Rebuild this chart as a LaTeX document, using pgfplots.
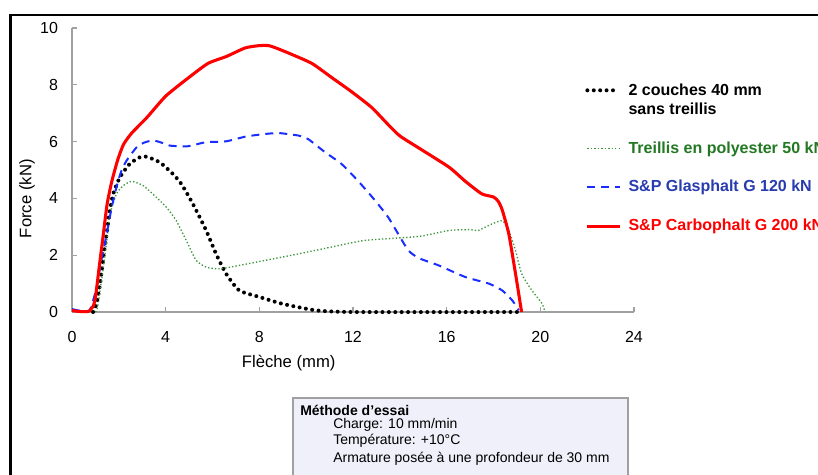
\documentclass[border=0pt]{standalone}
\usepackage{pgfplots}
\pgfplotsset{compat=1.18}
\usepackage{fontspec}
\setmainfont{Liberation Sans}
\definecolor{cred}{RGB}{255,0,0}
\definecolor{cblue}{RGB}{25,45,255}
\definecolor{cbluetext}{RGB}{40,60,175}
\definecolor{cgreen}{RGB}{60,150,60}
\definecolor{cgreentext}{RGB}{35,120,35}
\definecolor{boxfill}{RGB}{240,240,250}
\definecolor{axgray}{RGB}{160,160,160}
\pgfplotsset{raisedlegend/.style={legend image code/.code={\draw[##1] (0cm,0.25cm) -- (0.8cm,0.25cm);}}}
\begin{document}
\begin{tikzpicture}[x=0.75pt,y=0.75pt]
\useasboundingbox (0,0) rectangle (818,475);
\fill[white] (0,0) rectangle (818,475);
\draw[black, line width=2pt] (10.5,-40) -- (10.5,460) -- (900,460);
\begin{axis}[
  at={(54pt,122.25pt)}, anchor=south west, scale only axis,
  width=421.5pt, height=213pt,
  xmin=0, xmax=24, ymin=0, ymax=10,
  axis x line*=bottom, axis y line*=left,
  axis line style={draw=axgray, line width=0.8pt, -},
  every tick/.style={draw=axgray, line width=0.8pt},
  tick align=inside, major tick length=4pt,
  xtick={0,4,...,24}, ytick={0,2,...,10},
  /pgf/number format/assume math mode=true,
  tick label style={font=\fontsize{12}{14}\selectfont},
  xticklabel style={yshift=-11pt},
  yticklabel style={xshift=-7pt},
  xlabel={Flèche (mm)},
  ylabel={Force (kN)},
  label style={font=\fontsize{12.5}{14}\selectfont},
  xlabel style={at={(axis description cs:0.3856,-0.18)}, anchor=center},
  ylabel style={at={(axis description cs:-0.08,0.399)}, anchor=center},
  clip=false,
  legend image code/.code={\draw[#1] (0cm,0cm) -- (0.87cm,0cm);},
  legend cell align=left,
  legend style={at={(axis description cs:0.913,0.815)}, anchor=north west,
    draw=none, fill=none, inner sep=0pt,
    font=\bfseries\fontsize{12}{14.3}\selectfont,
    row sep=15pt,
    cells={anchor=west, align=left},
    /tikz/every odd column/.append style={column sep=3pt}},
]
\addplot[black, line width=3pt, line cap=round, dash pattern=on 0pt off 4.8pt, smooth, tension=0.35, raisedlegend] coordinates {
(0.9,0)(1.05,0.3)(1.2,1.0)(1.35,2.0)(1.48,2.75)(1.6,3.5)(1.76,4.16)(2.05,4.75)(2.47,5.22)(2.9,5.45)(3.18,5.47)(3.75,5.27)(4.31,4.86)(4.67,4.51)(5.16,3.81)(5.73,2.87)(6.15,2.05)(6.58,1.35)(7.14,0.76)(8.0,0.53)(8.98,0.29)(10.4,0.06)(12,0)(19,0)};
\addlegendentry{2 couches 40 mm\\sans treillis}
\addplot[cgreen, line width=1pt, dash pattern=on 1pt off 1.6pt, smooth, tension=0.35] coordinates {
(1.0,0)(1.1,0.2)(1.34,1.58)(1.5,2.6)(1.63,3.46)(1.9,4.16)(2.19,4.45)(2.55,4.6)(3.04,4.45)(3.6,4.04)(4.03,3.69)(4.45,3.22)(4.88,2.52)(5.3,1.82)(5.73,1.58)(6.3,1.52)(7.14,1.64)(8.27,1.82)(9.69,2.05)(11.1,2.29)(12.5,2.52)(14.8,2.66)(16.1,2.87)(17.0,2.9)(17.35,2.87)(17.8,3.05)(18.37,3.22)(18.65,2.87)(18.94,2.17)(19.2,1.35)(19.64,0.76)(20.07,0.3)(20.2,0)};
\addlegendentry{\textcolor{cgreentext}{ Treillis en polyester 50 kN}}
\addplot[cblue, line width=1.5pt, dash pattern=on 6pt off 4.5pt, smooth, tension=0.35] coordinates {
(0,0.1)(0.3,0.05)(0.5,0.02)(0.75,0.05)(0.9,0.4)(1.06,0.9)(1.25,1.8)(1.48,2.75)(1.7,3.7)(1.9,4.4)(2.1,4.95)(2.33,5.33)(2.76,5.8)(3.1,5.97)(3.47,6.04)(3.8,5.97)(4.17,5.86)(4.88,5.83)(5.3,5.9)(5.73,5.98)(6.58,6.01)(7.43,6.18)(8.27,6.27)(8.84,6.3)(9.69,6.21)(10.1,6.08)(10.8,5.63)(11.5,5.22)(12.2,4.63)(12.94,3.93)(13.5,3.34)(13.93,2.75)(14.36,2.17)(14.8,1.9)(15.66,1.64)(16.8,1.23)(17.8,1.0)(18.37,0.76)(18.8,0.41)(19.08,0.06)};
\addlegendentry{\textcolor{cbluetext}{S\&P Glasphalt G 120 kN}}
\addplot[cred, line width=2.3pt, smooth, tension=0.35] coordinates {
(0,0.05)(0.3,0.02)(0.7,0.02)(0.9,0.2)(1.0,0.5)(1.15,1.5)(1.34,2.75)(1.5,3.8)(1.7,4.6)(1.95,5.35)(2.2,5.9)(2.55,6.3)(3.2,6.85)(4.0,7.6)(4.9,8.2)(5.8,8.75)(6.6,9.0)(7.4,9.3)(8.0,9.38)(8.4,9.38)(8.7,9.3)(9.3,9.1)(10.25,8.75)(11.1,8.25)(11.95,7.75)(12.8,7.2)(13.5,6.6)(14.0,6.2)(14.8,5.78)(16.1,5.1)(16.8,4.6)(17.5,4.16)(18.0,4.05)(18.2,3.9)(18.37,3.6)(18.65,2.76)(18.94,1.35)(19.2,0)};
\addlegendentry{\textcolor{cred}{S\&P Carbophalt G 200 kN}}
\end{axis}
\draw[fill=boxfill, draw=axgray, line width=0.8pt] (293,77) rectangle (628,-10);
\node[anchor=west, inner sep=0pt, font=\bfseries\fontsize{10.5}{12}\selectfont] at (300,65) {Méthode d'essai};
\node[anchor=west, inner sep=0pt, font=\fontsize{10.5}{12}\selectfont] at (333,50) {Charge: 10 mm/min};
\node[anchor=west, inner sep=0pt, font=\fontsize{10.5}{12}\selectfont] at (333,34) {Température: +10°C};
\node[anchor=west, inner sep=0pt, font=\fontsize{10.5}{12}\selectfont] at (333,16) {Armature posée à une profondeur de 30 mm};
\end{tikzpicture}
\end{document}
